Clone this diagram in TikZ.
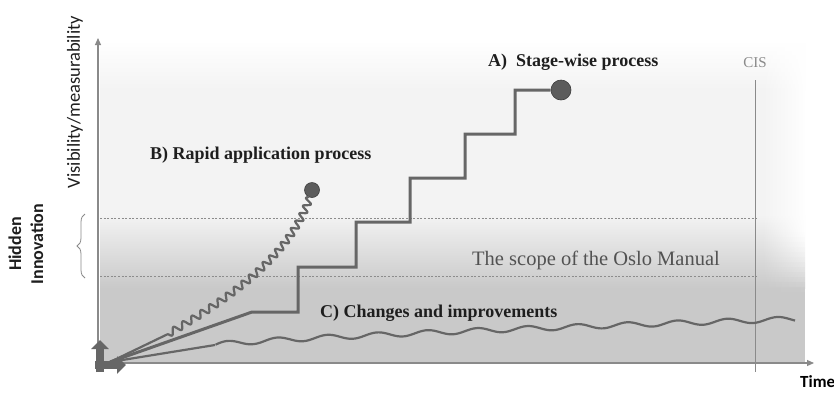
\documentclass[tikz,border=0pt]{standalone}
\usepackage{fontspec}
\setmainfont{Liberation Serif}
\newfontfamily\calib{Carlito}
\usetikzlibrary{arrows.meta,decorations.pathreplacing,fadings}
\definecolor{lineg}{HTML}{666666}
\definecolor{bgtop}{HTML}{F3F3F3}
\definecolor{bgbot}{HTML}{C9C9C9}
\definecolor{axisg}{HTML}{8A8A8A}
\definecolor{dotg}{HTML}{8C8C8C}
\definecolor{txtd}{HTML}{1E1E1E}
\tikzfading[name=fadeR, left color=transparent!100, right color=transparent!0]
\tikzset{
  dotline/.style={dotg, line width=0.9pt, dash pattern=on 2pt off 1.6pt},
  stairs/.style={lineg, line width=3pt},
  endball/.style={circle, fill=lineg!90!black, draw=lineg!60!black, line width=0.6pt, inner sep=0pt},
  lbl/.style={font=\bfseries\fontsize{18}{20}\selectfont, text=txtd, inner sep=0pt},
  sanslbl/.style={font=\calib\fontsize{18.5}{20}\selectfont, text=txtd, inner sep=0pt}
}
\begin{document}
\begin{tikzpicture}[x=1pt,y=-1pt,
  declare function={
    bx(\t)=(1-\t)^3*168+3*(1-\t)^2*\t*235+3*(1-\t)*\t^2*290+\t^3*310;
    by(\t)=(1-\t)^3*334+3*(1-\t)^2*\t*295+3*(1-\t)*\t^2*255+\t^3*197;
    ddx(\t)=(1-\t)^2*67+2*(1-\t)*\t*55+\t^2*20;
    ddy(\t)=(1-\t)^2*(-39)+2*(1-\t)*\t*(-40)+\t^2*(-58);
    dl(\t)=sqrt(ddx(\t)^2+ddy(\t)^2);
    wv(\t)=3.4*sin(360*21*\t);
    cb(\x)=345-26*((\x-215)/580)^0.75;
  }]
\useasboundingbox (0,0) rectangle (834,392);
\fill[white] (0,0) rectangle (834,392);
% background bands
\shade[top color=white, bottom color=bgtop] (100,40) rectangle (805,90);
\fill[bgtop] (100,90) rectangle (805,215);
\shade[top color=bgtop, bottom color=bgbot] (100,215) rectangle (805,288);
\fill[bgbot] (100,288) rectangle (805,363);
\fill[white, path fading=fadeR] (762,40) rectangle (806,232);
\foreach \k in {0,...,11} {
  \fill[white, opacity={1-(\k+0.5)/12}, path fading=fadeR] (762,{232+5*\k}) rectangle (806,{237+5*\k});
}
% coordinates
\coordinate (O) at (110,362);
\coordinate (yb) at (98,365);
\coordinate (yt) at (98,38);
\coordinate (xl) at (98,363);
\coordinate (xr) at (814,363);
% dotted scope lines
\coordinate (d1a) at (100,218); \coordinate (d1b) at (757,218);
\coordinate (d2a) at (100,276); \coordinate (d2b) at (757,276);
\draw[dotline] (d1a) -- (d1b);
\draw[dotline] (d2a) -- (d2b);
% axes
\draw[axisg, line width=1.1pt, -{Triangle[length=7pt,width=6pt]}] (yb) -- (yt);
\draw[axisg, line width=1.1pt, -{Triangle[length=7pt,width=6pt]}] (xl) -- (xr);
% CIS line
\node[text=axisg, font=\fontsize{15}{17}\selectfont, inner sep=0pt] (cis) at (755,63) {CIS};
\coordinate (cisb) at (755,372);
\draw[axisg, line width=1pt] ([yshift=-12pt]cis.south) -- (cisb);
% A) stage-wise
\node[endball, minimum size=20pt] (A) at (561,90) {};
\draw[stairs, line join=miter] (O) -- (252,312) -- (298,312) -- (298,267) -- (356,267) -- (356,222)
  -- (410,222) -- (410,178) -- (465,178) -- (465,134) -- (515,134) -- (515,90) -- (A.west);
% B) rapid
\node[endball, minimum size=15pt] (B) at (312,190) {};
\coordinate (B0) at (168,334);
\draw[lineg, line width=2.2pt, line join=round] (O) -- (B0);
\draw[lineg, line width=2.2pt, line join=round]
  plot[domain=0:1, samples=450, variable=\t] ({bx(\t)-ddy(\t)/dl(\t)*wv(\t)}, {by(\t)+ddx(\t)/dl(\t)*wv(\t)});
% C) changes
\coordinate (C0) at (215,345);
\draw[lineg, line width=2.2pt] (O) -- (C0);
\draw[lineg, line width=2.2pt, line join=round]
  plot[domain=215.5:795, samples=300, variable=\x] (\x, {cb(\x)-2.6*sin((\x-215)/50*360)});
% origin block arrows
\coordinate (ou1) at (100,372); \coordinate (ou2) at (100,340);
\coordinate (or1) at (95,365); \coordinate (or2) at (126,365);
\draw[lineg, line width=8pt, -{Triangle[length=9pt,width=17pt]}] (ou1) -- (ou2);
\draw[lineg, line width=8pt, -{Triangle[length=9pt,width=17pt]}] (or1) -- (or2);
% labels
\node[lbl, anchor=west] (Al) at (488,62) {A)\ \ Stage-wise process};
\node[lbl, anchor=west] (Bl) at (150,155) {B) Rapid application process};
\node[lbl, anchor=west] (Cl) at (320,313) {C) Changes and improvements};
\node[anchor=west, text=black!68, font=\fontsize{20.5}{23}\selectfont, inner sep=0pt] (Ol) at (472,260) {The scope of the Oslo Manual};
\node[sanslbl, rotate=90] (Vl) at (75,102) {Visibility/measurability};
\node[sanslbl, text=black, anchor=west, font=\calib\bfseries\fontsize{17}{19}\selectfont] (Tl) at (800,382) {Time};
\node[sanslbl, rotate=90, align=center, font=\calib\bfseries\fontsize{18}{22}\selectfont] (Hl) at (26,244) {Hidden\\Innovation};
% brace
\coordinate (bb) at (85,278); \coordinate (bt) at (85,214);
\draw[axisg, line width=0.8pt, decorate, decoration={brace, amplitude=8pt}] (bb) -- (bt);
\end{tikzpicture}
\end{document}
